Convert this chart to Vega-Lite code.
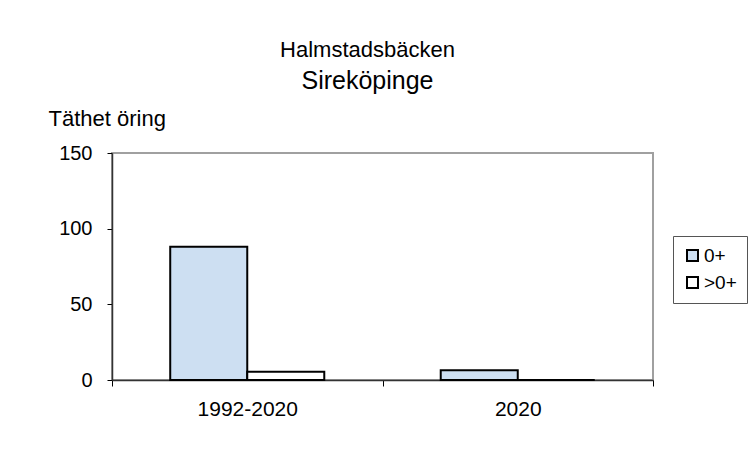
{
  "$schema": "https://vega.github.io/schema/vega-lite/v6.json",
  "width": 541,
  "height": 227,
  "autosize": {"type": "none"},
  "padding": {"left": 112, "top": 153, "right": 99, "bottom": 70},
  "background": "white",
  "title": {
    "text": "Halmstadsbäcken",
    "subtitle": "Sireköpinge",
    "font": "Liberation Sans",
    "subtitleFont": "Liberation Sans",
    "fontSize": 22,
    "subtitleFontSize": 25,
    "fontWeight": "normal",
    "color": "#000000",
    "subtitleColor": "#000000",
    "anchor": "middle",
    "frame": "group",
    "dx": -15,
    "offset": 12,
    "subtitlePadding": 7
  },
  "data": {
    "values": [
      {"period": "1992-2020", "age": "0+", "density": 88},
      {"period": "1992-2020", "age": ">0+", "density": 5.5},
      {"period": "2020", "age": "0+", "density": 6.4},
      {"period": "2020", "age": ">0+", "density": 0}
    ]
  },
  "mark": {"type": "bar", "stroke": "#000000", "strokeWidth": 2},
  "encoding": {
    "x": {
      "field": "period",
      "type": "nominal",
      "scale": {"paddingInner": 0, "paddingOuter": 0},
      "axis": {
        "title": null,
        "labelAngle": 0,
        "tickBand": "extent",
        "tickSize": 6,
        "labelFontSize": 21,
        "labelPadding": 12
      }
    },
    "xOffset": {
      "field": "age",
      "type": "nominal",
      "scale": {"domain": ["0+", ">0+"], "paddingInner": 0, "paddingOuter": 0.756}
    },
    "y": {
      "field": "density",
      "type": "quantitative",
      "scale": {"domain": [0, 150], "nice": false},
      "axis": {
        "values": [0, 50, 100, 150],
        "title": "Täthet öring",
        "titleAngle": 0,
        "titleX": -64,
        "titleY": -28,
        "titleAlign": "left",
        "titleBaseline": "alphabetic",
        "titleFontSize": 22,
        "tickSize": 5,
        "labelFontSize": 20,
        "labelPadding": 15
      }
    },
    "fill": {
      "field": "age",
      "type": "nominal",
      "scale": {"domain": ["0+", ">0+"], "range": ["#cddff2", "#ffffff"]},
      "legend": {
        "title": null,
        "orient": "none",
        "legendX": 561,
        "legendY": 83,
        "symbolType": "square",
        "symbolSize": 121,
        "symbolStrokeColor": "#000000",
        "symbolStrokeWidth": 2,
        "labelFontSize": 19,
        "labelFont": "Liberation Sans",
        "labelColor": "#000000",
        "labelOffset": 2,
        "padding": 10,
        "rowPadding": 7,
        "strokeColor": "#555555",
        "fillColor": "#ffffff"
      }
    }
  },
  "config": {
    "view": {"stroke": "#a0a0a0", "strokeWidth": 2},
    "axis": {
      "grid": false,
      "domainColor": "#333333",
      "domainWidth": 1.5,
      "tickColor": "#000000",
      "labelColor": "#000000",
      "titleColor": "#000000",
      "labelFont": "Liberation Sans",
      "titleFont": "Liberation Sans",
      "titleFontWeight": "normal"
    }
  }
}
